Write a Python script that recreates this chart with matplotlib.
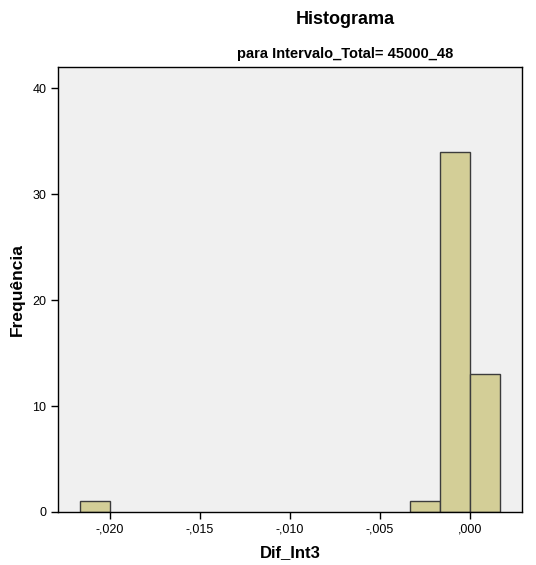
import numpy as np
import matplotlib
matplotlib.use("Agg")
import matplotlib.pyplot as plt
from matplotlib.ticker import FuncFormatter

# Histogram data (bin width = 1/600)
bin_width = 1 / 600
bin_lefts = [-13 * bin_width, -2 * bin_width, -1 * bin_width, 0.0]
counts = [1, 1, 34, 13]

x_ticks = [-0.020, -0.015, -0.010, -0.005, 0.000]
y_ticks = [0, 10, 20, 30, 40]

plt.rcParams['font.family'] = ['Liberation Sans', 'DejaVu Sans']

fig = plt.figure(figsize=(5.36, 5.65), dpi=100)
ax = fig.add_axes([58 / 536, 53 / 565, 464 / 536, 445 / 565])
ax.set_facecolor('#F0F0F0')

ax.bar(bin_lefts, counts, width=bin_width, align='edge',
       color='#D3CE97', edgecolor='#3C3C3C', linewidth=1.0)

ax.set_xlim(-0.02289, 0.00289)
ax.set_ylim(0, 42)
ax.set_xticks(x_ticks)
ax.set_yticks(y_ticks)


def spss_fmt(v, pos):
    # SPSS style: comma decimal, no leading zero
    s = f"{abs(v):.3f}".replace("0.", ",", 1)
    return ("-" if v < -1e-12 else "") + s


ax.xaxis.set_major_formatter(FuncFormatter(spss_fmt))
ax.yaxis.set_major_formatter(FuncFormatter(lambda v, p: f"{int(v)}"))
ax.tick_params(direction='out', length=5, width=1, labelsize=9, colors='black')

for sp in ax.spines.values():
    sp.set_color('black')
    sp.set_linewidth(1)

ax.set_xlabel("Dif_Int3", fontsize=12, fontweight='bold', labelpad=7)
ax.set_ylabel("Frequência", fontsize=12.5, fontweight='bold', labelpad=5)

fig.text(345 / 536, 1 - 20 / 565, "Histograma", ha='center', va='center',
         fontsize=13, fontweight='bold')
fig.text(345 / 536, 1 - 54 / 565, "para Intervalo_Total= 45000_48", ha='center',
         va='center', fontsize=10.5, fontweight='bold')

fig.savefig("out.png", dpi=100, facecolor='white')
